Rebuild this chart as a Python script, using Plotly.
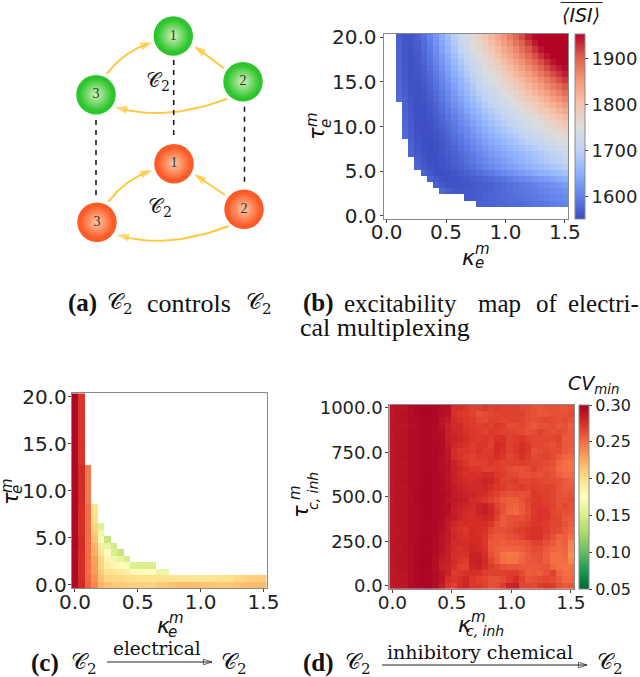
import plotly.graph_objects as go

_ = None
# ---------- panel (b): mean ISI, rows bottom to top ----------
isi_rows = [
 [_]*30,
 [_]*30,
 [_]*15+[1572,1573,1574,1575,1576,1578,1580,1582,1585,1588,1590,1594,1597,1600,1603],
 [_]*13+[1564,1566,1569,1572,1574,1577,1580,1582,1585,1588,1591,1594,1598,1601,1605,1608,1612],
 [_]*9+[1578,1570,1564,1562,1563,1565,1567,1570,1573,1577,1581,1585,1588,1591,1595,1598,1602,1606,1610,1615,1619],
 [_]*8+[1570,1564,1559,1558,1559,1561,1563,1566,1569,1573,1577,1581,1585,1589,1594,1598,1603,1608,1613,1618,1623,1629],
 [_]*7+[1572,1564,1558,1556,1557,1560,1563,1567,1571,1576,1581,1586,1592,1598,1604,1610,1615,1621,1627,1633,1639,1645,1651],
 [_]*6+[1572,1563,1557,1555,1557,1561,1566,1571,1577,1583,1590,1597,1604,1611,1618,1625,1632,1639,1645,1652,1658,1665,1670,1676],
 [_]*5+[1575,1564,1557,1555,1557,1561,1567,1573,1580,1587,1595,1603,1611,1619,1627,1634,1641,1648,1655,1662,1668,1675,1682,1688,1694],
 [_]*5+[1572,1561,1555,1554,1558,1563,1570,1577,1585,1593,1602,1611,1620,1628,1636,1644,1651,1659,1666,1673,1680,1687,1694,1700,1707],
 [_]*4+[1575,1565,1558,1555,1556,1560,1565,1572,1580,1589,1598,1608,1618,1627,1635,1643,1650,1658,1665,1672,1680,1688,1695,1703,1710,1720],
 [_]*4+[1575,1563,1556,1554,1556,1561,1568,1576,1585,1595,1605,1616,1626,1636,1645,1653,1661,1669,1677,1685,1693,1701,1709,1717,1725,1733],
 [_]*4+[1572,1560,1555,1554,1557,1563,1571,1580,1590,1601,1612,1623,1634,1644,1654,1663,1672,1680,1689,1698,1706,1715,1724,1733,1741,1750],
 [_]*3+[1580,1568,1558,1554,1555,1559,1566,1575,1585,1596,1608,1620,1631,1642,1653,1663,1673,1682,1691,1700,1709,1718,1728,1737,1747,1756,1765],
 [_]*3+[1578,1566,1556,1554,1556,1561,1569,1579,1590,1602,1614,1627,1639,1651,1662,1673,1683,1693,1702,1712,1722,1732,1742,1752,1762,1771,1781],
 [_]*3+[1576,1565,1556,1555,1558,1564,1573,1584,1596,1609,1622,1635,1648,1660,1672,1683,1694,1704,1714,1725,1735,1746,1756,1767,1777,1788,1800],
 [_]*3+[1575,1564,1556,1556,1560,1567,1577,1589,1602,1616,1630,1644,1657,1670,1682,1694,1705,1716,1727,1738,1749,1760,1771,1782,1793,1804,1816],
 [_]*3+[1575,1563,1556,1557,1562,1570,1582,1595,1609,1624,1638,1653,1667,1680,1692,1705,1717,1728,1740,1751,1763,1775,1787,1798,1810,1822,1834],
 [_]*3+[1574,1562,1556,1558,1564,1574,1586,1601,1616,1631,1647,1662,1676,1690,1703,1716,1728,1740,1752,1764,1777,1789,1802,1814,1827,1840,1853],
 [_]*2+[1580,1570,1560,1557,1560,1567,1578,1591,1607,1623,1639,1655,1671,1686,1700,1714,1727,1740,1752,1765,1778,1791,1804,1817,1830,1844,1858,1872],
 [_]*2+[1578,1568,1558,1557,1561,1570,1582,1596,1612,1629,1646,1663,1679,1695,1710,1724,1738,1751,1764,1777,1790,1804,1818,1832,1846,1860,1875,1890],
 [_]*2+[1577,1566,1558,1558,1563,1573,1586,1601,1618,1636,1654,1671,1688,1704,1719,1734,1748,1762,1776,1790,1804,1818,1833,1848,1863,1878,1893,1908],
 [_]*2+[1576,1565,1558,1559,1565,1576,1590,1606,1624,1643,1661,1679,1696,1713,1729,1744,1759,1774,1788,1803,1818,1833,1848,1864,1880,1896,1912,1926],
 [_]*2+[1575,1564,1557,1560,1568,1580,1595,1612,1631,1650,1669,1688,1705,1722,1739,1755,1770,1786,1801,1816,1832,1848,1864,1881,1898,1914,1928,1940],
 [_]*2+[1574,1563,1557,1561,1570,1583,1600,1618,1638,1658,1677,1696,1714,1732,1749,1765,1781,1797,1813,1829,1846,1863,1880,1897,1914,1930,1942,1950],
 [_]*2+[1574,1562,1557,1563,1573,1587,1605,1624,1644,1665,1685,1704,1723,1741,1759,1776,1793,1809,1826,1843,1860,1878,1896,1913,1930,1945,1953,1954],
 [_]*2+[1573,1562,1558,1564,1576,1591,1610,1630,1651,1672,1693,1713,1732,1751,1769,1787,1804,1822,1839,1857,1875,1893,1912,1930,1946,1954,1954,1954],
 [_]*2+[1572,1561,1559,1566,1579,1596,1615,1636,1658,1680,1701,1722,1742,1761,1779,1797,1815,1833,1851,1870,1889,1908,1927,1945,1954,1954,1954,1954],
 [_]*2+[1571,1561,1560,1568,1582,1600,1620,1642,1665,1687,1709,1730,1750,1770,1789,1808,1827,1845,1864,1883,1902,1923,1942,1954,1954,1954,1954,1954],
 [_]*2+[1570,1561,1561,1570,1585,1604,1625,1648,1671,1694,1716,1738,1758,1778,1798,1818,1837,1856,1875,1895,1915,1936,1950,1954,1954,1954,1954,1954],
]

# ---------- panel (c): CV min, rows bottom to top, left part only ----------
cve_rows = [
 [.295,.278,.255,.24,.222,.215,.212,.21,.21,.208,.208,.208,.207,.212,.212,.216,.218,.219,.219,.217,.214,.214,.212,.212,.214,.216,.217,.218,.218,.219],
 [.295,.277,.252,.236,.216,.206,.204,.204,.202,.2,.198,.198,.198,.198,.198,.197,.197,.196,.196,.195,.195,.196,.197,.198,.199,.203,.206,.208,.209,.209],
 [.296,.275,.25,.232,.21,.198,.195,.192,.188,.178,.177,.177,.176,.162,.162],
 [.296,.275,.25,.232,.205,.19,.182,.178,.17,.152,.151,.15,.15],
 [.295,.275,.25,.23,.205,.183,.165,.16,.15],
 [.295,.276,.25,.225,.195,.172,.152,.14],
 [.296,.277,.25,.222,.19,.16,.145],
 [.295,.277,.25,.215,.18,.14],
 [.295,.275,.25,.21,.165],
 [.295,.275,.25,.205,.155],
 [.295,.275,.25,.2],
 [.296,.275,.25,.197],
 [.295,.276,.25,.197],
 [.296,.277,.245],[.296,.277,.245],[.295,.277,.245],[.296,.276,.245],[.295,.277,.245],[.296,.277,.245],
 [.295,.272],[.296,.272],[.295,.272],[.296,.273],[.295,.272],[.296,.272],[.295,.272],[.296,.273],[.295,.272],[.295,.272],[.296,.272],
]
cve_rows = [r + [_]*(30-len(r)) for r in cve_rows]

# ---------- panel (d): CV min x 1000, rows top to bottom ----------
cvi_left = [
 [288,290,290,293,296,297,297,297,292,292,276,276,272],
 [288,291,291,294,296,297,297,296,292,290,276,272,270],
 [288,290,290,294,295,296,297,296,290,286,278,274,272],
 [289,289,289,292,294,296,296,295,290,284,278,278,272],
 [288,290,291,294,294,296,296,295,292,284,280,278,274],
 [288,291,291,293,294,296,296,295,293,284,282,280,276],
 [288,290,290,293,294,296,297,296,293,286,280,276,274],
 [288,290,291,294,295,296,296,296,294,288,276,272,272],
 [288,291,291,294,294,296,296,296,292,288,278,274,270],
 [289,290,290,293,294,296,297,296,292,290,282,278,272],
 [289,290,291,294,294,296,297,296,292,290,284,280,276],
 [288,290,291,294,295,297,297,295,293,290,284,278,274],
 [288,291,291,293,294,297,297,296,294,290,284,280,278],
 [288,290,290,293,295,297,297,296,293,290,286,282,280],
 [289,290,290,294,296,297,297,296,294,292,286,284,282],
 [288,291,291,294,296,298,298,296,294,290,288,286,284],
 [288,290,290,294,295,297,297,296,294,292,286,284,280],
 [288,290,290,293,294,297,297,296,294,292,284,282,278],
 [289,290,290,293,295,297,297,296,294,288,286,282,278],
 [288,290,291,294,295,297,297,296,292,286,280,276,278],
 [288,289,290,293,294,296,296,296,292,286,278,274,272],
 [288,290,291,293,295,297,297,295,290,286,280,276,274],
 [289,290,290,293,295,297,297,294,290,286,278,278,276],
 [288,289,291,294,296,297,296,294,290,284,278,274,276],
 [288,290,290,293,296,297,297,294,288,284,276,274,274],
 [289,291,290,293,296,298,297,292,286,284,278,272,270],
 [288,290,291,294,296,298,297,292,284,282,276,268,268],
 [287,289,289,293,296,297,296,294,288,282,270,272,274],
 [288,289,290,293,296,297,296,294,288,276,272,276,280],
 [287,289,289,294,296,297,297,294,286,272,268,276,280],
]
cvi_right = [
 [268,268,272,268,270,268,268,268,265,265,262,260,262,262,262,260,262],
 [268,262,264,266,268,268,268,268,268,264,262,260,260,262,262,262,264],
 [270,266,264,268,268,266,268,268,266,264,262,264,266,264,262,264,262],
 [270,268,270,268,272,270,264,264,266,262,258,262,262,264,260,262,256],
 [272,270,268,272,270,268,268,266,264,262,264,268,264,262,264,262,258],
 [272,270,272,270,274,274,268,270,272,268,266,266,266,266,268,258,258],
 [270,272,272,268,278,276,268,272,274,272,266,266,264,262,266,260,258],
 [270,274,270,270,278,274,268,272,276,272,262,264,266,264,264,258,256],
 [268,270,270,272,276,272,266,270,274,270,264,266,268,264,258,254,252],
 [268,268,268,272,270,268,268,268,270,268,266,266,264,262,254,250,248],
 [272,272,268,268,270,268,264,262,262,264,268,264,262,260,252,250,248],
 [276,274,278,278,272,270,266,266,262,262,264,262,264,262,256,252,252],
 [276,278,282,280,274,268,268,270,266,266,268,266,264,264,262,258,256],
 [278,278,280,276,272,270,266,268,270,268,270,268,268,266,262,258,258],
 [280,278,276,272,268,264,262,264,262,264,272,270,268,266,262,260,262],
 [278,276,272,268,264,258,256,256,262,266,270,272,268,266,262,262,264],
 [278,282,284,278,268,262,256,254,258,266,272,272,270,268,262,266,262],
 [276,282,284,280,270,262,254,252,258,264,270,274,272,266,264,262,262],
 [276,278,280,278,268,258,262,262,262,266,272,274,272,268,266,260,258],
 [276,276,276,272,262,258,262,264,266,268,272,272,270,266,266,262,256],
 [278,276,274,266,262,262,264,268,270,272,274,274,270,266,264,258,254],
 [278,276,272,262,258,258,262,264,268,272,274,274,268,262,254,256,250],
 [278,278,272,258,258,256,258,258,260,262,268,268,262,258,252,256,242],
 [280,278,274,260,256,254,254,254,256,260,264,264,258,254,252,254,240],
 [282,282,276,262,256,248,246,246,252,258,262,262,256,250,250,252,236],
 [282,284,278,266,258,250,248,248,254,258,260,262,256,250,250,250,240],
 [280,282,276,270,266,262,260,260,258,258,258,260,260,252,250,248,248],
 [276,274,270,268,268,268,270,270,264,256,258,256,262,268,254,250,250],
 [272,268,266,262,262,264,270,276,268,260,262,264,266,264,258,252,252],
 [272,272,268,262,264,270,282,284,266,266,264,270,272,270,262,258,260],
]
cvi_rows = [[v/1000 for v in a+b] for a, b in zip(cvi_left, cvi_right)][::-1]

# ---------- panel (a): the network diagram ----------
node_labels = ["1","2","3"]
green_x, green_y = [173.3,243,96], [36,81.7,94.7]
red_x, red_y = [174,244,97], [163.7,209.3,222.3]
# edges: start, control, end
edges = [
 ((106.7,74),(125,50),(152.7,42.3)),
 ((224,68.3),(209,57),(194,46)),
 ((227.3,98.7),(167,122),(115,107.3)),
 ((108.3,201.7),(127,178),(152.7,170)),
 ((225,195),(209.5,184.5),(194,174)),
 ((228.7,226),(167,250),(116.7,235)),
]
dashes = [((96,120),(96,198)),((173.7,60),(173.7,138)),((244.5,106.7),(244.5,183))]

W, H = 640, 677
GRAY = "#8a8a8a"
YEL = "#fdc943"
COOLWARM = [[0,"#3b4cc0"],[.125,"#6282ea"],[.25,"#8db0fe"],[.375,"#c0d4f5"],[.5,"#dddcdc"],
            [.625,"#f5c4ad"],[.75,"#f4987a"],[.875,"#de604d"],[1,"#b40426"]]
RDYLGN_R = ["#006837","#1a9850","#66bd63","#a6d96a","#d9ef8b","#ffffbf","#fee08b","#fdae61","#f46d43","#d73027","#a50026"]
RDYLGN_R = [[i/10,c] for i,c in enumerate(RDYLGN_R)]

def xdom(l,r): return [l/W, r/W]
def ydom(t,b): return [1-b/H, 1-t/H]

fig = go.Figure()
dk = 1.5/29
dt = 20/29
dc = 1000/29

fig.add_trace(go.Heatmap(z=isi_rows, x0=0, dx=dk, y0=0, dy=dt, colorscale=COOLWARM, zmin=1552, zmax=1954,
    xaxis="x", yaxis="y", hoverongaps=False,
    colorbar=dict(x=574.5/W, xanchor="left", xpad=0, ypad=0, thickness=9.5, thicknessmode="pixels",
        y=1-219/H, yanchor="bottom", len=185/H, lenmode="fraction", tickvals=[1600,1700,1800,1900],
        tickfont=dict(family="DejaVu Sans", size=18, color="#222"), ticks="outside", ticklen=3, tickcolor="#444",
        outlinecolor=GRAY, outlinewidth=1)))
fig.add_trace(go.Heatmap(z=cve_rows, x0=0, dx=dk, y0=0, dy=dt, colorscale=RDYLGN_R, zmin=.05, zmax=.30,
    xaxis="x2", yaxis="y2", showscale=False, hoverongaps=False))
fig.add_trace(go.Heatmap(z=cvi_rows, x0=0, dx=dk, y0=0, dy=dc, colorscale=RDYLGN_R, zmin=.05, zmax=.30,
    xaxis="x3", yaxis="y3",
    colorbar=dict(x=579.3/W, xanchor="left", xpad=0, ypad=0, thickness=10, thicknessmode="pixels",
        y=1-589/H, yanchor="bottom", len=184.3/H, lenmode="fraction",
        tickvals=[.05,.10,.15,.20,.25,.30], tickformat=".2f",
        tickfont=dict(family="DejaVu Sans", size=16, color="#222"), ticks="outside", ticklen=3, tickcolor="#444",
        outlinecolor=GRAY, outlinewidth=1)))

# diagram traces on a full-page axis pair
for (s,_c,e) in edges:
    n = 24
    px = [(1-i/n)**2*s[0]+2*(1-i/n)*(i/n)*_c[0]+(i/n)**2*e[0] for i in range(n+1)]
    py = [(1-i/n)**2*s[1]+2*(1-i/n)*(i/n)*_c[1]+(i/n)**2*e[1] for i in range(n+1)]
    fig.add_trace(go.Scatter(x=px[:-2], y=py[:-2], mode="lines", xaxis="x4", yaxis="y4", showlegend=False,
        line=dict(color=YEL, width=2)))
    fig.add_trace(go.Scatter(x=px[-6::5], y=py[-6::5], mode="markers", xaxis="x4", yaxis="y4", showlegend=False,
        marker=dict(symbol="arrow", angleref="previous", size=[0,13], color=YEL, line=dict(width=0))))
for (a,b) in dashes:
    fig.add_trace(go.Scatter(x=[a[0],b[0]], y=[a[1],b[1]], mode="lines", xaxis="x4", yaxis="y4", showlegend=False,
        line=dict(color="#111", width=1.5, dash="5px,5px")))
for nx, ny, cc, ce in [(green_x, green_y, "#d4f2bc", "#2cc52c"), (red_x, red_y, "#ffc8a6", "#fc5a26")]:
    fig.add_trace(go.Scatter(x=nx, y=ny, mode="markers", xaxis="x4", yaxis="y4", showlegend=False,
        marker=dict(size=39.5, color=ce, line=dict(width=0))))
    fig.add_trace(go.Scatter(x=nx, y=ny, text=node_labels, mode="markers+text", textposition="middle center",
        xaxis="x4", yaxis="y4", showlegend=False,
        textfont=dict(family="Liberation Serif", size=14, color="#333"),
        marker=dict(size=33, color=ce, line=dict(width=0), gradient=dict(type="radial", color=cc))))

# text helpers
def T(x, y, s, size=25, fam="Liberation Serif", anchor="left", angle=0, color="#111"):
    fig.add_annotation(x=x, y=y, text=s, xref="x4", yref="y4", showarrow=False, xanchor=anchor, yanchor="middle",
        textangle=angle, borderpad=0, borderwidth=0, font=dict(family=fam, size=size, color=color))

C2 = "𝒞<sub>2</sub>"
def c2(x, y, size=21.5): T(x, y, C2, size=size, fam="DejaVu Serif, DejaVu Sans, serif")

c2(146, 81, 20); c2(148, 207, 20)
T(68, 303, "<b>(a)</b>"); c2(107, 303); T(147, 303, "controls", size=26); c2(246, 303)
T(303, 303, "<b>(b)</b>"); T(344, 303, "excitability"); T(478, 303, "map"); T(536, 303, "of"); T(568, 303, "electri-")
T(300, 327, "cal multiplexing", size=26)
T(31, 663, "<b>(c)</b>"); c2(71, 663); c2(221, 663)
T(113, 648, "electrical", size=18.5, fam="DejaVu Serif")
T(303, 663, "<b>(d)</b>"); c2(345, 663); c2(597, 663)
T(387, 652, "inhibitory chemical", size=19, fam="DejaVu Serif")
for x0, x1, yy in [(107,212,662),(382,587,665)]:
    fig.add_trace(go.Scatter(x=[x0,x1], y=[yy,yy], mode="lines+markers", xaxis="x4", yaxis="y4", showlegend=False,
        line=dict(color="#222", width=1.2),
        marker=dict(symbol="arrow-open", angleref="previous", size=[0,9], color="#222", line=dict(width=1,color="#222"))))

# axis titles
S = "DejaVu Sans"
def kappa(x, y, mx, my, sx, sy, sub, ssize=15):
    T(x, y, "<i>κ</i>", size=22, fam=S, anchor="center")
    T(mx, my, "<i>m</i>", size=15, fam=S, anchor="center")
    T(sx, sy, "<i>"+sub+"</i>", size=ssize, fam=S, anchor="center")
def tau(x, y, mx, my, sx, sy, sub, ssize=15):
    T(x, y, "<i>τ</i>", size=21, fam=S, anchor="center", angle=-90)
    T(mx, my, "<i>m</i>", size=15, fam=S, anchor="center", angle=-90)
    T(sx, sy, "<i>"+sub+"</i>", size=ssize, fam=S, anchor="center", angle=-90)
kappa(468, 257, 482, 249, 479, 263, "e")
kappa(163, 625, 176, 618, 172, 632, "e")
kappa(464, 624, 478, 617, 485, 631, "c, inh", 14)
tau(317, 134, 312, 120, 326, 124, "e")
tau(11, 499, 7, 486, 17, 490, "e")
tau(301, 512, 295, 493, 313, 491, "c, inh", 14)

T(581, 15, "<i>⟨ISI⟩</i>", size=19, fam=S, anchor="center")
T(568, 384, "<i>CV<sub>min</sub></i>", size=19, fam=S)
fig.add_trace(go.Scatter(x=[560.7,602.7], y=[2.5,2.5], mode="lines", xaxis="x4", yaxis="y4", showlegend=False,
    line=dict(color="#222", width=1.2)))

def ax(dom, rng, tv, size, standoff):
    return dict(domain=dom, range=rng, tickvals=tv, tickformat=".1f", showgrid=False, zeroline=False,
        showline=True, mirror=True, linecolor=GRAY, linewidth=1, ticks="outside", ticklen=3, tickcolor="#444",
        ticklabelstandoff=standoff,
        tickfont=dict(family="DejaVu Sans", size=size, color="#222"), fixedrange=True)

kt = [0,.5,1,1.5]
fig.update_layout(
    width=W, height=H, margin=dict(l=0,r=0,t=0,b=0,autoexpand=False), paper_bgcolor="white", plot_bgcolor="rgba(0,0,0,0)",
    showlegend=False,
    xaxis =dict(ax(xdom(383.5,568), [-dk/2,1.5+dk/2], kt, 20, -8), anchor="y"),
    yaxis =dict(ax(ydom(34,219), [-dt/2,20+dt/2], [0,5,10,15,20], 20, -1), anchor="x"),
    xaxis2=dict(ax(xdom(71.7,266.7), [-dk/2,1.5+dk/2], kt, 20, -7), anchor="y2"),
    yaxis2=dict(ax(ydom(393.3,588), [-dt/2,20+dt/2], [0,5,10,15,20], 20, -3), anchor="x2"),
    xaxis3=dict(ax(xdom(389.3,574), [-dk/2,1.5+dk/2], kt, 18.5, -6), anchor="y3"),
    yaxis3=dict(ax(ydom(404.7,589), [-dc/2,1000+dc/2], [0,250,500,750,1000], 18, -1), anchor="x3"),
    xaxis4=dict(domain=[0,1], range=[0,W], visible=False, fixedrange=True, anchor="y4"),
    yaxis4=dict(domain=[0,1], range=[H,0], visible=False, fixedrange=True, anchor="x4"),
)
fig.write_html("out.html", post_script="document.body.style.margin='0';", config={"displayModeBar": False})
